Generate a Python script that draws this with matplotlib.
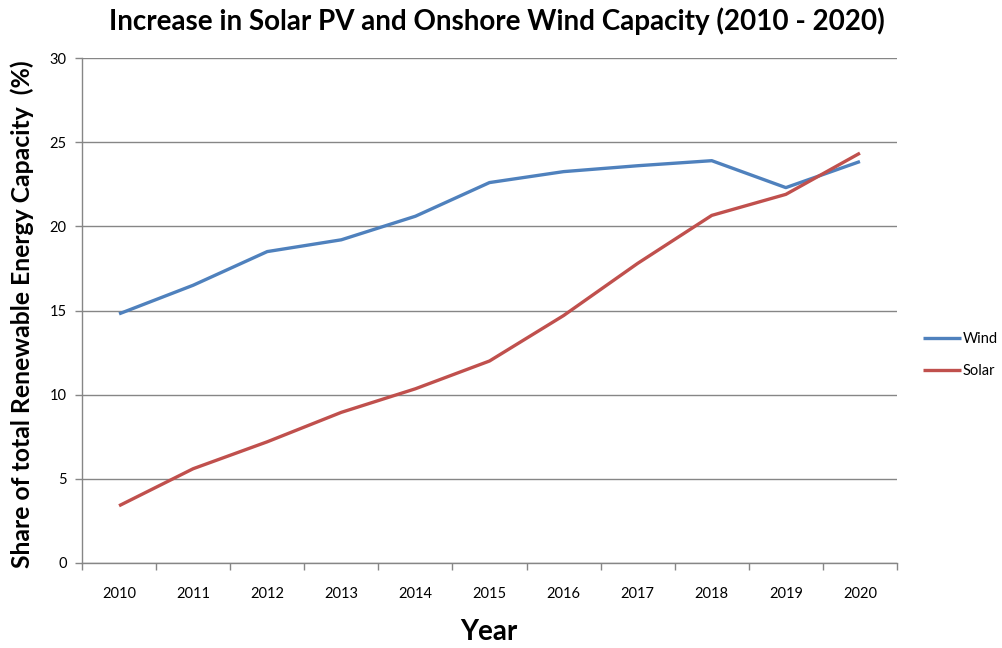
import matplotlib
matplotlib.use("Agg")
import matplotlib.pyplot as plt
import numpy as np

years = ["2010", "2011", "2012", "2013", "2014", "2015",
         "2016", "2017", "2018", "2019", "2020"]
wind = [14.8, 16.5, 18.5, 19.2, 20.6, 22.6, 23.25, 23.6, 23.9, 22.3, 23.85]
solar = [3.4, 5.6, 7.2, 8.95, 10.35, 12.0, 14.7, 17.8, 20.65, 21.9, 24.35]
y_ticks = [0, 5, 10, 15, 20, 25, 30]

plt.rcParams['font.family'] = ['Lato', 'DejaVu Sans']

fig = plt.figure(figsize=(10.02, 6.48), dpi=100)
ax = fig.add_axes([82 / 1002, 85 / 648, 815 / 1002, 505 / 648])

x = np.arange(len(years))
grey = "#868686"
ax.plot(x, wind, color="#4F81BD", lw=2.4, solid_capstyle="butt", label="Wind")
ax.plot(x, solar, color="#C0504D", lw=2.4, solid_capstyle="butt", label="Solar")

ax.set_xlim(-0.5, len(years) - 0.5)
ax.set_ylim(0, 30)
ax.set_yticks(y_ticks)
ax.set_xticks(x)
ax.set_xticklabels(years)
ax.set_xticks(np.arange(-0.5, len(years), 1.0), minor=True)
ax.tick_params(axis="x", which="major", length=0, pad=17, labelsize=10.5)
ax.tick_params(axis="x", which="minor", length=5, color=grey, width=1)
ax.tick_params(axis="y", length=5, color=grey, width=1, pad=6, labelsize=10.5)

ax.grid(axis="y", color=grey, lw=1)
ax.set_axisbelow(True)
for side in ("top", "right"):
    ax.spines[side].set_visible(False)
for side in ("left", "bottom"):
    ax.spines[side].set_color(grey)
    ax.spines[side].set_linewidth(1)

fig.text(497 / 1002, 1 - 21 / 648,
         "Increase in Solar PV and Onshore Wind Capacity (2010 - 2020)",
         ha="center", va="center", fontsize=20, fontweight="bold")
fig.text(22 / 1002, 1 - 314 / 648, "Share of total Renewable Energy Capacity  (%)",
         ha="center", va="center", rotation=90, fontsize=17.8, fontweight="bold")
fig.text(489 / 1002, 1 - 632 / 648, "Year",
         ha="center", va="center", fontsize=20, fontweight="bold")

leg = ax.legend(loc="center left", bbox_to_anchor=(910 / 1002, 1 - 355 / 648),
                bbox_transform=fig.transFigure, frameon=False, fontsize=10.5,
                handlelength=2.6, handletextpad=0.1, labelspacing=1.2)

fig.savefig("out.png", dpi=100, facecolor="white")
